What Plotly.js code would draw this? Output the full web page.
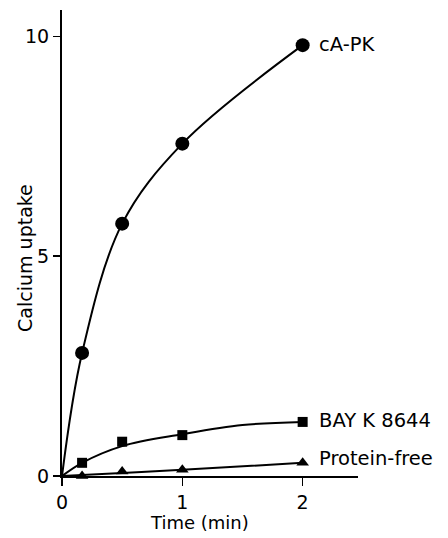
<!DOCTYPE html>
<html>
<head>
<meta charset="utf-8">
<script src="https://cdn.plot.ly/plotly-3.0.1.min.js"></script>
<style>html,body{margin:0;padding:0;background:#fff;}#chart{width:448px;height:538px;}</style>
</head>
<body>
<div id="chart"></div>
<script>
// Measured data points (time in min, calcium uptake)
const timePoints = [0.167, 0.5, 1, 2];
const capkValues = [2.8, 5.74, 7.56, 9.8];
const bayValues = [0.3, 0.78, 0.93, 1.23];
const freeValues = [0.0, 0.1, 0.14, 0.3];

// Fitted curves
const capkCurveT = [0, 0.167, 0.5, 1, 2];
const capkCurveV = [0, 2.8, 5.74, 7.56, 9.8];
const bayCurveT = [0, 0.167, 0.5, 1, 1.5, 2];
const bayCurveV = [0, 0.3, 0.68, 0.95, 1.16, 1.23];
const freeCurveT = [0, 0.5, 1, 2];
const freeCurveV = [0, 0.07, 0.14, 0.3];

const xTicks = [0, 1, 2];
const yTicks = [0, 5, 10];
const seriesNames = ['cA-PK', 'BAY K 8644', 'Protein-free'];
const xTitle = 'Time (min)';
const yTitle = 'Calcium uptake';

const FONT = 'DejaVu Sans, Verdana, sans-serif';
const lineStyle = {color: '#000', width: 2, shape: 'spline', smoothing: 1};

const traces = [
  {x: capkCurveT, y: capkCurveV, mode: 'lines', line: lineStyle, cliponaxis: false, hoverinfo: 'skip'},
  {x: bayCurveT, y: bayCurveV, mode: 'lines', line: lineStyle, cliponaxis: false, hoverinfo: 'skip'},
  {x: freeCurveT, y: freeCurveV, mode: 'lines', line: lineStyle, cliponaxis: false, hoverinfo: 'skip'},
  {x: timePoints, y: capkValues, mode: 'markers', name: seriesNames[0], cliponaxis: false,
   marker: {symbol: 'circle', size: 14, color: '#000'}},
  {x: timePoints, y: bayValues, mode: 'markers', name: seriesNames[1], cliponaxis: false,
   marker: {symbol: 'square', size: 10, color: '#000'}},
  {x: timePoints, y: freeValues, mode: 'markers', name: seriesNames[2], cliponaxis: false,
   marker: {symbol: 'triangle-up', size: 11, color: '#000'}}
];

const lastIdx = timePoints.length - 1;
const labelY = [capkValues[lastIdx], bayValues[lastIdx], freeValues[lastIdx]];
const annotations = seriesNames.map((n, i) => ({
  x: timePoints[lastIdx], y: labelY[i], xref: 'x', yref: 'y',
  text: n, showarrow: false, xanchor: 'left', yanchor: 'middle',
  xshift: 14, yshift: i === 2 ? 4 : 1,
  font: {family: FONT, size: 19.5, color: '#000'}
}));
// axis titles placed as annotations for exact positioning
annotations.push({
  xref: 'paper', yref: 'paper', x: -0.125, y: 0.468, textangle: -90,
  text: yTitle, showarrow: false, xanchor: 'center', yanchor: 'middle',
  font: {family: FONT, size: 19, color: '#000'}
});
annotations.push({
  xref: 'paper', yref: 'paper', x: 0.466, y: -0.099,
  text: xTitle, showarrow: false, xanchor: 'center', yanchor: 'middle',
  font: {family: FONT, size: 18, color: '#000'}
});

const layout = {
  width: 448, height: 538,
  margin: {l: 62, r: 90, t: 10, b: 62},
  paper_bgcolor: '#fff', plot_bgcolor: '#fff',
  showlegend: false,
  font: {family: FONT, size: 19, color: '#000'},
  xaxis: {
    range: [0, 2.46], tickvals: xTicks, ticktext: xTicks.map(String),
    showline: true, linecolor: '#000', linewidth: 2,
    ticks: 'outside', ticklen: 8, tickwidth: 1.5, tickcolor: '#000',
    tickfont: {family: FONT, size: 19},
    showgrid: false, zeroline: false
  },
  yaxis: {
    range: [0, 10.6], tickvals: yTicks, ticktext: yTicks.map(String),
    showline: true, linecolor: '#000', linewidth: 2,
    ticks: 'outside', ticklen: 7, tickwidth: 1.5, tickcolor: '#000',
    tickfont: {family: FONT, size: 19},
    showgrid: false, zeroline: false
  },
  annotations: annotations
};

Plotly.newPlot('chart', traces, layout, {staticPlot: true, displayModeBar: false});
</script>
</body>
</html>
